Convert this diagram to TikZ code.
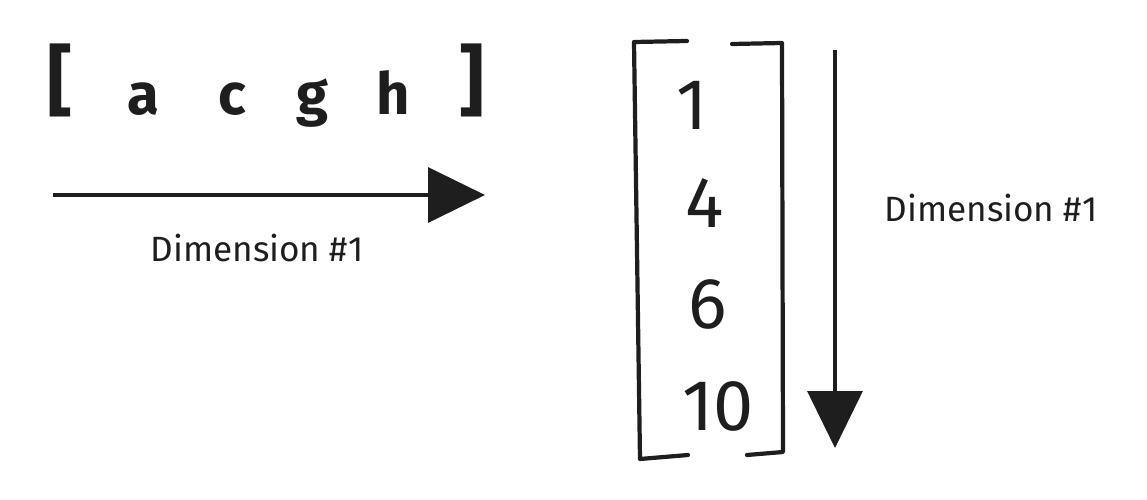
\documentclass[tikz,border=0pt]{standalone}
\usepackage{fontspec}
\setmainfont{Fira Sans}
\usetikzlibrary{arrows.meta,positioning}
\definecolor{inkblack}{HTML}{1E1E1E}

\begin{document}
\begin{tikzpicture}[x=0.02cm,y=-0.02cm,
  ch/.style={text=inkblack,font=\bfseries\fontsize{33}{36}\selectfont,inner sep=0pt,anchor=base},
  br/.style={text=inkblack,font=\bfseries\fontsize{44}{46}\selectfont,inner sep=0pt,anchor=base},
  dig/.style={text=inkblack,font=\fontsize{41}{44}\selectfont,inner sep=0pt,anchor=base},
  lbl/.style={text=inkblack,font=\fontsize{20}{24}\selectfont,inner sep=0pt},
  brk/.style={draw=inkblack,line width=2.4pt,line cap=round,line join=round},
  arr/.style={draw=inkblack,line width=2pt,-{Triangle[length=1.14cm,width=1.1cm]}}]
  \useasboundingbox (0,0) rectangle (1147,500);
  % row vector
  \node[br] (lb) at (60,108) {[};
  \foreach \c/\x in {a/143,c/232,g/312,h/393}
    \node[ch] (l\c) at (\x,115) {\c};
  \node[br] (rb) at (472,108) {]};
  % horizontal arrow
  \coordinate (hs) at (53,195);
  \coordinate (he) at (485,195);
  \draw[arr] (hs) -- (he);
  \node[lbl] (hlbl) at (257,248) {Dimension \#1};
  % column vector
  \foreach \d/\x/\y in {1/692/130,4/705/228,6/708/328,10/718/430}
    \node[dig] (d\d) at (\x,\y) {\d};
  \draw[brk] (687,41) -- (634,42) -- (640,459) -- (688,455);
  \draw[brk] (732,44) -- (782,43) -- (783,452) -- (747,455);
  % vertical arrow
  \coordinate (vs) at (835,50);
  \coordinate (ve) at (835,448);
  \draw[arr] (vs) -- (ve);
  \node[lbl] (vlbl) at (991,208) {Dimension \#1};
\end{tikzpicture}
\end{document}
